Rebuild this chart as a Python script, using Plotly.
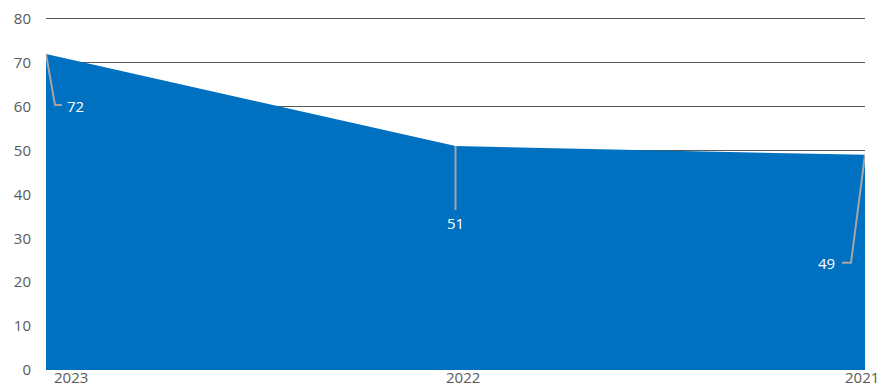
import plotly.graph_objects as go

# chart data
years = ['2023', '2022', '2021']
values = [72, 51, 49]

# leader line paths (pixel offsets from each point) and label offsets
leader_paths = ['M0,0 L9,-51 L16,-51', 'M0,0 L0,-64', 'M0,0 L-14,-108 L-23,-108']
label_offsets = [(29, -52), (0, -77), (-39, -108)]

blue = '#0070C0'
grey_txt = '#595959'
font_family = 'Open Sans'

xpos = list(range(len(years)))

fig = go.Figure()
fig.add_trace(go.Scatter(
    x=xpos, y=values, mode='lines', fill='tozeroy',
    fillcolor=blue, line=dict(color=blue, width=0),
    text=years, hovertemplate='%{text}: %{y}<extra></extra>', showlegend=False,
))

# leader lines
for xi, v, p in zip(xpos, values, leader_paths):
    fig.add_shape(type='path', path=p, xref='x', yref='y',
                  xsizemode='pixel', ysizemode='pixel',
                  xanchor=xi, yanchor=v,
                  line=dict(color='#A6A6A6', width=2))

# data labels
for xi, v, (dx, dy) in zip(xpos, values, label_offsets):
    fig.add_annotation(x=xi, y=v, text=str(v), showarrow=False,
                       xshift=dx, yshift=dy,
                       font=dict(color='white', size=15, family=font_family))

# category labels (shifted like the original)
x_label_pos = [('left', 7), ('center', 7), ('right', 15)]
for xi, yr, (anchor, dx) in zip(xpos, years, x_label_pos):
    fig.add_annotation(x=xi, y=0, xref='x', yref='paper', text=yr,
                       showarrow=False, xanchor=anchor, yanchor='top',
                       xshift=dx, yshift=4, borderpad=0,
                       font=dict(color=grey_txt, size=15, family=font_family))

fig.update_xaxes(range=[0, len(years) - 1], showticklabels=False,
                 showgrid=False, showline=False, zeroline=False,
                 automargin=False)
fig.update_yaxes(range=[0, 80.4], tickvals=list(range(0, 81, 10)),
                 showgrid=True, gridcolor='#595959',
                 gridwidth=1, zeroline=False, showline=False,
                 ticklabelstandoff=14, automargin=False,
                 tickfont=dict(color=grey_txt, size=15, family=font_family))

fig.update_layout(
    width=882, height=386,
    margin=dict(l=46, r=17, t=17, b=16),
    paper_bgcolor='white', plot_bgcolor='white',
    font=dict(family=font_family),
)

fig.write_html('out.html', config={'displayModeBar': False},
               post_script="document.body.style.margin='0';")
